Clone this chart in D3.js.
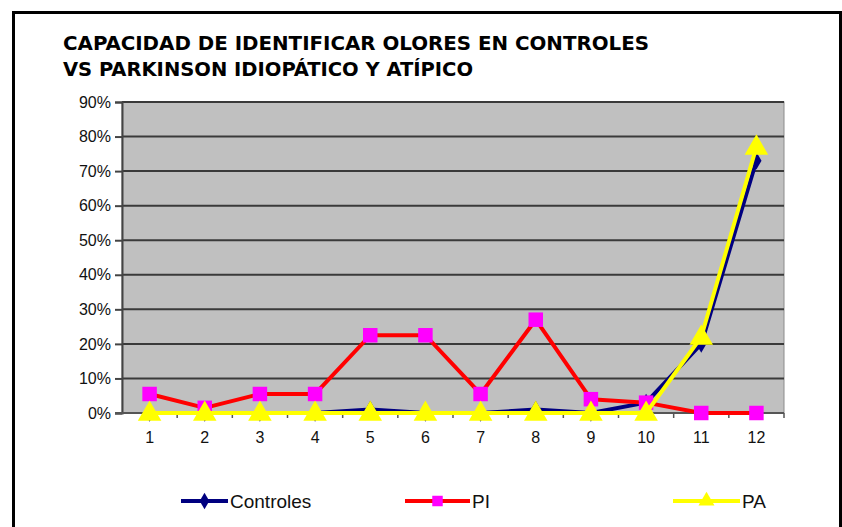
<!DOCTYPE html>
<html>
<head>
<meta charset="utf-8">
<script src="https://cdn.jsdelivr.net/npm/d3@7"></script>
<style>
  body { margin: 0; background: #fff; }
  svg { display: block; }
</style>
</head>
<body>
<svg id="chart"></svg>
<script>
const width = 842;
const height = 527;

// data
const categories = ["1", "2", "3", "4", "5", "6", "7", "8", "9", "10", "11", "12"];
const controles = [0, 0, 0, 0, 1, 0, 0, 1, 0, 3, 20, 73];
const pi = [5.5, 1.5, 5.5, 5.5, 22.5, 22.5, 5.5, 27, 4, 3, 0, 0];
const pa = [0, 0, 0, 0, 0, 0, 0, 0, 0, 0, 22, 77];
const yTicks = [0, 10, 20, 30, 40, 50, 60, 70, 80, 90];
const titleLines = ["CAPACIDAD DE IDENTIFICAR OLORES EN CONTROLES", "VS PARKINSON IDIOPÁTICO Y ATÍPICO"];

const svg = d3.select("#chart")
    .attr("width", width)
    .attr("height", height);

const margin = { top: 102, right: 58, bottom: 114, left: 122 };
const labelFont = "Arial, 'Liberation Sans', Helvetica, sans-serif";

const x = d3.scaleBand()
    .domain(categories)
    .range([margin.left, width - margin.right]);

const y = d3.scaleLinear()
    .domain([0, 90])
    .range([height - margin.bottom, margin.top]);

// outer frame (open at bottom)
svg.append("path")
    .attr("d", `M13.5,${height} L13.5,12.5 L840.5,12.5 L840.5,${height}`)
    .attr("fill", "none")
    .attr("stroke", "#000")
    .attr("stroke-width", 3);

// title, two separate lines
const titleLengths = [586, 410];
svg.selectAll(".title")
    .data(titleLines)
    .enter()
    .append("text")
    .attr("class", "title")
    .attr("x", 63)
    .attr("y", (d, i) => 50 + i * 26)
    .attr("font-family", "'DejaVu Sans Condensed', 'Open Sans', sans-serif")
    .attr("font-weight", "bold")
    .attr("font-size", "20px")
    .attr("fill", "#000")
    .attr("textLength", (d, i) => titleLengths[i])
    .attr("lengthAdjust", "spacingAndGlyphs")
    .text(d => d);

// plot background
svg.append("rect")
    .attr("x", margin.left)
    .attr("y", margin.top)
    .attr("width", width - margin.left - margin.right)
    .attr("height", height - margin.top - margin.bottom)
    .attr("fill", "#c0c0c0")
    .attr("stroke", "#8c8c8c")
    .attr("stroke-width", 1);

// gridlines
svg.append("g")
    .selectAll("line")
    .data(yTicks.filter(d => d > 0))
    .enter()
    .append("line")
    .attr("x1", margin.left)
    .attr("x2", width - margin.right)
    .attr("y1", d => y(d))
    .attr("y2", d => y(d))
    .attr("stroke", "#3a3a3a")
    .attr("stroke-width", 2);

// y axis
const yAxis = svg.append("g")
    .attr("transform", `translate(${margin.left},0)`)
    .call(d3.axisLeft(y).tickValues(yTicks).tickSize(7).tickPadding(4).tickFormat(d => d + "%"));
yAxis.attr("font-family", labelFont);
yAxis.select(".domain").attr("stroke", "#444").attr("stroke-width", 2);
yAxis.selectAll(".tick line").attr("stroke", "#444").attr("stroke-width", 2);
yAxis.selectAll("text")
    .attr("font-family", labelFont)
    .attr("font-size", "16px")
    .attr("fill", "#111");

// x axis: ticks between categories
const xAxisG = svg.append("g")
    .attr("transform", `translate(0,${y(0)})`);
xAxisG.append("line")
    .attr("x1", margin.left - 7)
    .attr("x2", width - margin.right)
    .attr("stroke", "#555")
    .attr("stroke-width", 2);
xAxisG.selectAll(".sep")
    .data(categories.slice(1).concat(["end"]))
    .enter()
    .append("line")
    .attr("x1", d => d === "end" ? width - margin.right : x(d))
    .attr("x2", d => d === "end" ? width - margin.right : x(d))
    .attr("y1", 0)
    .attr("y2", 5)
    .attr("stroke", "#555")
    .attr("stroke-width", 1.5);
xAxisG.selectAll(".lbl")
    .data(categories)
    .enter()
    .append("text")
    .attr("x", d => x(d) + x.bandwidth() / 2)
    .attr("y", 30)
    .attr("text-anchor", "middle")
    .attr("font-family", labelFont)
    .attr("font-size", "16px")
    .attr("fill", "#111")
    .text(d => d);

const cx = (d, i) => x(categories[i]) + x.bandwidth() / 2;

const series = [
    { name: "Controles", values: controles, line: "#000080", marker: "diamond", fill: "#000080", size: 90 },
    { name: "PI", values: pi, line: "#ff0000", marker: "square", fill: "#ff00ff", size: 210 },
    { name: "PA", values: pa, line: "#ffff00", marker: "triangle", fill: "#ffff00", size: 240 }
];

const symbolType = {
    diamond: d3.symbolDiamond,
    square: d3.symbolSquare,
    triangle: d3.symbolTriangle
};

const lineGen = d3.line()
    .x((d, i) => cx(d, i))
    .y(d => y(d));

series.forEach(s => {
    svg.append("path")
        .datum(s.values)
        .attr("fill", "none")
        .attr("stroke", s.line)
        .attr("stroke-width", 4)
        .attr("stroke-linejoin", "round")
        .attr("d", lineGen);

    svg.append("g")
        .selectAll("path")
        .data(s.values)
        .enter()
        .append("path")
        .attr("transform", (d, i) => `translate(${cx(d, i)},${y(d) + (s.marker === "triangle" ? 1 : 0)})`)
        .attr("d", d3.symbol().type(symbolType[s.marker]).size(s.size))
        .attr("fill", s.fill);
});

// legend
const legendItems = [
    { s: series[0], x: 181, w: 47 },
    { s: series[1], x: 405, w: 65 },
    { s: series[2], x: 673, w: 67 }
];
const legendY = 501;
const legend = svg.append("g");
legendItems.forEach(item => {
    legend.append("line")
        .attr("x1", item.x)
        .attr("x2", item.x + item.w)
        .attr("y1", legendY)
        .attr("y2", legendY)
        .attr("stroke", item.s.line)
        .attr("stroke-width", 4);
    legend.append("path")
        .attr("transform", `translate(${item.x + item.w / 2},${legendY})`)
        .attr("d", d3.symbol().type(symbolType[item.s.marker]).size(item.s.marker === "diamond" ? 80 : 110))
        .attr("fill", item.s.fill);
    legend.append("text")
        .attr("x", item.x + item.w + 2)
        .attr("y", legendY + 7)
        .attr("font-family", labelFont)
        .attr("font-size", "19px")
        .attr("fill", "#111")
        .text(item.s.name);
});
</script>
</body>
</html>
